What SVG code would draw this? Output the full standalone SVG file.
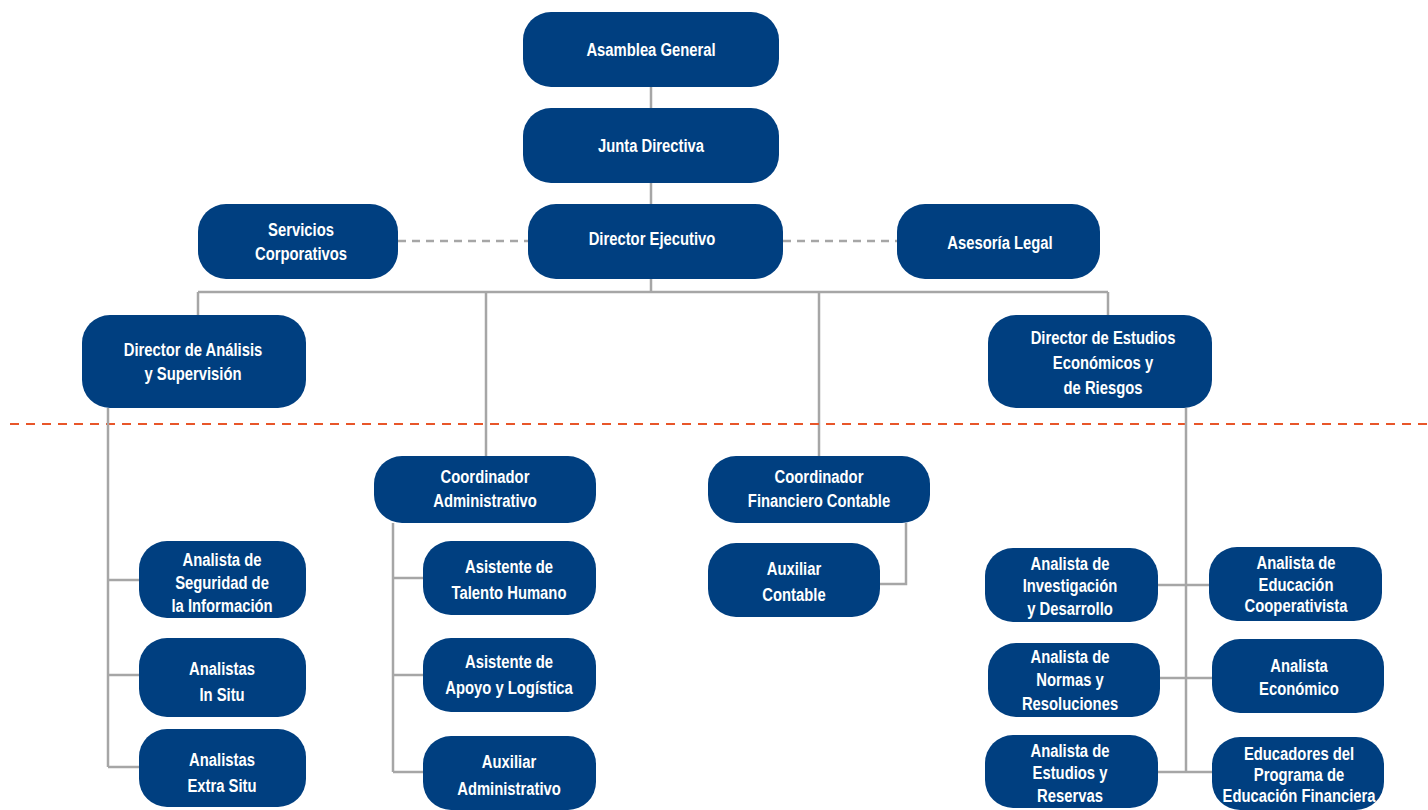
<svg xmlns="http://www.w3.org/2000/svg" width="1428" height="810" viewBox="0 0 1428 810">
<style>
.n{fill:#003f80;}
.t{font-family:"Liberation Sans",Arial,sans-serif;font-weight:bold;font-size:19px;fill:#ffffff;text-anchor:middle;}
.c{fill:none;stroke:#a6a6a6;stroke-width:2.5;}
.d{fill:none;stroke:#a6a6a6;stroke-width:2.5;stroke-dasharray:8 6;}
.o{fill:none;stroke:#e8562a;stroke-width:2;stroke-dasharray:9 7;}
</style>
<rect width="1428" height="810" fill="#ffffff"/>
<g id="connectors">
<path class="c" d="M651 87V108M651 183V204M651 279V292M198 292H1108M198 292V315M486 292V456M819 292V456M1108 292V315"/>
<path class="d" d="M398 241H528M783 241H897"/>
<path class="o" d="M10 424H1428"/>
<path class="c" d="M108 408V767M108 580H139M108 675H139M108 767H139"/>
<path class="c" d="M393 523V772M393 578H423M393 675H423M393 772H423"/>
<path class="c" d="M906 523V584H880"/>
<path class="c" d="M1186 408V772M1158 585H1209M1160 678H1212M1158 772H1212"/>
</g>
<g id="asamblea"><rect class="n" x="523" y="12" width="256" height="75" rx="28"/><text class="t" transform="translate(651 0) scale(0.78 1)"><tspan x="0" y="56">Asamblea General</tspan></text></g>
<g id="junta"><rect class="n" x="523" y="108" width="256" height="75" rx="28"/><text class="t" transform="translate(651 0) scale(0.78 1)"><tspan x="0" y="152">Junta Directiva</tspan></text></g>
<g id="ejecutivo"><rect class="n" x="528" y="204" width="255" height="75" rx="28"/><text class="t" transform="translate(652 0) scale(0.78 1)"><tspan x="0" y="245">Director Ejecutivo</tspan></text></g>
<g id="servicios"><rect class="n" x="198" y="204" width="200" height="75" rx="28"/><text class="t" transform="translate(301 0) scale(0.78 1)"><tspan x="0" y="236">Servicios</tspan><tspan x="0" y="260">Corporativos</tspan></text></g>
<g id="asesoria"><rect class="n" x="897" y="204" width="203" height="75" rx="28"/><text class="t" transform="translate(1000 0) scale(0.78 1)"><tspan x="0" y="249">Asesoría Legal</tspan></text></g>
<g id="dir-analisis"><rect class="n" x="82" y="315" width="224" height="93" rx="28"/><text class="t" transform="translate(193 0) scale(0.78 1)"><tspan x="0" y="356">Director de Análisis</tspan><tspan x="0" y="380">y Supervisión</tspan></text></g>
<g id="dir-estudios"><rect class="n" x="988" y="315" width="224" height="93" rx="28"/><text class="t" transform="translate(1103 0) scale(0.78 1)"><tspan x="0" y="344">Director de Estudios</tspan><tspan x="0" y="369">Económicos y</tspan><tspan x="0" y="394">de Riesgos</tspan></text></g>
<g id="coord-admin"><rect class="n" x="374" y="456" width="222" height="67" rx="28"/><text class="t" transform="translate(485 0) scale(0.78 1)"><tspan x="0" y="483">Coordinador</tspan><tspan x="0" y="507">Administrativo</tspan></text></g>
<g id="coord-fin"><rect class="n" x="708" y="456" width="222" height="67" rx="28"/><text class="t" transform="translate(819 0) scale(0.78 1)"><tspan x="0" y="483">Coordinador</tspan><tspan x="0" y="507">Financiero Contable</tspan></text></g>
<g id="aux-contable"><rect class="n" x="708" y="543" width="172" height="74" rx="28"/><text class="t" transform="translate(794 0) scale(0.78 1)"><tspan x="0" y="575">Auxiliar</tspan><tspan x="0" y="601">Contable</tspan></text></g>
<g id="seguridad"><rect class="n" x="139" y="541" width="167" height="77" rx="28"/><text class="t" transform="translate(222 0) scale(0.78 1)"><tspan x="0" y="566">Analista de</tspan><tspan x="0" y="589">Seguridad de</tspan><tspan x="0" y="612">la Información</tspan></text></g>
<g id="in-situ"><rect class="n" x="139" y="638" width="167" height="79" rx="28"/><text class="t" transform="translate(222 0) scale(0.78 1)"><tspan x="0" y="675">Analistas</tspan><tspan x="0" y="701">In Situ</tspan></text></g>
<g id="extra-situ"><rect class="n" x="139" y="729" width="167" height="78" rx="28"/><text class="t" transform="translate(222 0) scale(0.78 1)"><tspan x="0" y="766">Analistas</tspan><tspan x="0" y="792">Extra Situ</tspan></text></g>
<g id="talento"><rect class="n" x="423" y="541" width="173" height="74" rx="28"/><text class="t" transform="translate(509 0) scale(0.78 1)"><tspan x="0" y="573">Asistente de</tspan><tspan x="0" y="599">Talento Humano</tspan></text></g>
<g id="apoyo"><rect class="n" x="423" y="638" width="173" height="74" rx="28"/><text class="t" transform="translate(509 0) scale(0.78 1)"><tspan x="0" y="668">Asistente de</tspan><tspan x="0" y="694">Apoyo y Logística</tspan></text></g>
<g id="aux-admin"><rect class="n" x="423" y="736" width="173" height="74" rx="28"/><text class="t" transform="translate(509 0) scale(0.78 1)"><tspan x="0" y="768">Auxiliar</tspan><tspan x="0" y="795">Administrativo</tspan></text></g>
<g id="investigacion"><rect class="n" x="985" y="548" width="173" height="74" rx="28"/><text class="t" transform="translate(1070 0) scale(0.78 1)"><tspan x="0" y="570">Analista de</tspan><tspan x="0" y="592">Investigación</tspan><tspan x="0" y="615">y Desarrollo</tspan></text></g>
<g id="educ-coop"><rect class="n" x="1209" y="547" width="173" height="74" rx="28"/><text class="t" transform="translate(1296 0) scale(0.78 1)"><tspan x="0" y="569">Analista de</tspan><tspan x="0" y="591">Educación</tspan><tspan x="0" y="612">Cooperativista</tspan></text></g>
<g id="normas"><rect class="n" x="988" y="643" width="172" height="74" rx="28"/><text class="t" transform="translate(1070 0) scale(0.78 1)"><tspan x="0" y="663">Analista de</tspan><tspan x="0" y="686">Normas y</tspan><tspan x="0" y="710">Resoluciones</tspan></text></g>
<g id="economico"><rect class="n" x="1212" y="639" width="172" height="74" rx="28"/><text class="t" transform="translate(1299 0) scale(0.78 1)"><tspan x="0" y="672">Analista</tspan><tspan x="0" y="695">Económico</tspan></text></g>
<g id="estudios-reservas"><rect class="n" x="985" y="735" width="173" height="73" rx="28"/><text class="t" transform="translate(1070 0) scale(0.78 1)"><tspan x="0" y="757">Analista de</tspan><tspan x="0" y="779">Estudios y</tspan><tspan x="0" y="802">Reservas</tspan></text></g>
<g id="educadores"><rect class="n" x="1212" y="737" width="172" height="73" rx="28"/><text class="t" transform="translate(1299 0) scale(0.78 1)"><tspan x="0" y="760">Educadores del</tspan><tspan x="0" y="781">Programa de</tspan><tspan x="0" y="802">Educación Financiera</tspan></text></g>
</svg>
